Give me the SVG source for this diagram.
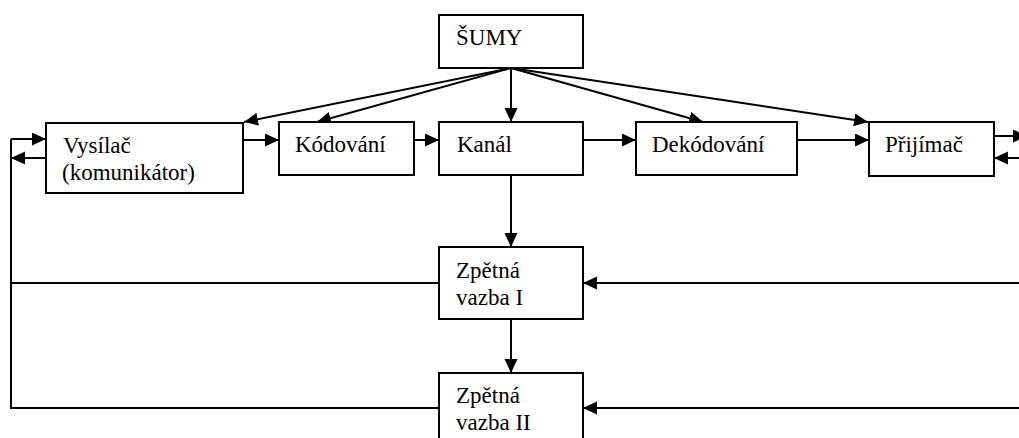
<svg xmlns="http://www.w3.org/2000/svg" width="1019" height="438" viewBox="0 0 1019 438">
<style>
.box{fill:#fff;stroke:#000;stroke-width:2}
.t{font-family:'Liberation Serif','Times New Roman','DejaVu Serif',serif;font-size:23px;fill:#000}
.c{stroke:#000;stroke-width:2;fill:none}
.a{marker-end:url(#ah)}
</style>
<defs>
<marker id="ah" markerUnits="userSpaceOnUse" markerWidth="16" markerHeight="14" refX="14" refY="6.5" orient="auto">
<path d="M0,0 L14,6.5 L0,13 z" fill="#000"/>
</marker>
</defs>
<rect width="1019" height="438" fill="#fff"/>
<g id="connectors">
<line class="c a" x1="511" y1="68" x2="244" y2="122"/>
<line class="c a" x1="511" y1="68" x2="317" y2="122"/>
<line class="c a" x1="511" y1="68" x2="511" y2="122"/>
<line class="c a" x1="511" y1="68" x2="703" y2="122"/>
<line class="c a" x1="511" y1="68" x2="868" y2="122"/>
<line class="c a" x1="243" y1="140" x2="279" y2="140"/>
<line class="c a" x1="414" y1="140" x2="439" y2="140"/>
<line class="c a" x1="583" y1="140" x2="636" y2="140"/>
<line class="c a" x1="797" y1="140" x2="869" y2="140"/>
<line class="c a" x1="994" y1="136" x2="1027" y2="136"/>
<line class="c a" x1="1019" y1="158" x2="994" y2="158"/>
<line class="c a" x1="11" y1="139" x2="46" y2="139"/>
<line class="c a" x1="46" y1="158" x2="11" y2="158"/>
<polyline class="c" points="11,139 11,408 439,408"/>
<line class="c" x1="439" y1="283" x2="11" y2="283"/>
<line class="c a" x1="1019" y1="283" x2="583" y2="283"/>
<line class="c a" x1="1019" y1="408" x2="583" y2="408"/>
<line class="c a" x1="511" y1="175" x2="511" y2="247"/>
<line class="c a" x1="511" y1="319" x2="511" y2="373"/>
</g>
<g id="sumy">
<rect class="box" x="439" y="15" width="144" height="53"/>
<text class="t" x="456" y="45">ŠUMY</text>
</g>
<g id="vysilac">
<rect class="box" x="46" y="123" width="197" height="70"/>
<text class="t" x="63" y="153">Vysílač</text>
<text class="t" x="62" y="180">(komunikátor)</text>
</g>
<g id="kodovani">
<rect class="box" x="279" y="122" width="135" height="53"/>
<text class="t" x="295" y="152">Kódování</text>
</g>
<g id="kanal">
<rect class="box" x="439" y="122" width="144" height="53"/>
<text class="t" x="457" y="152">Kanál</text>
</g>
<g id="dekodovani">
<rect class="box" x="636" y="122" width="161" height="53"/>
<text class="t" x="652" y="152">Dekódování</text>
</g>
<g id="prijimac">
<rect class="box" x="869" y="122" width="125" height="54"/>
<text class="t" x="885" y="152">Přijímač</text>
</g>
<g id="zpetna1">
<rect class="box" x="439" y="247" width="144" height="72"/>
<text class="t" x="456" y="278">Zpětná</text>
<text class="t" x="456" y="305">vazba I</text>
</g>
<g id="zpetna2">
<rect class="box" x="439" y="373" width="144" height="80"/>
<text class="t" x="456" y="403">Zpětná</text>
<text class="t" x="456" y="430">vazba II</text>
</g>
</svg>
